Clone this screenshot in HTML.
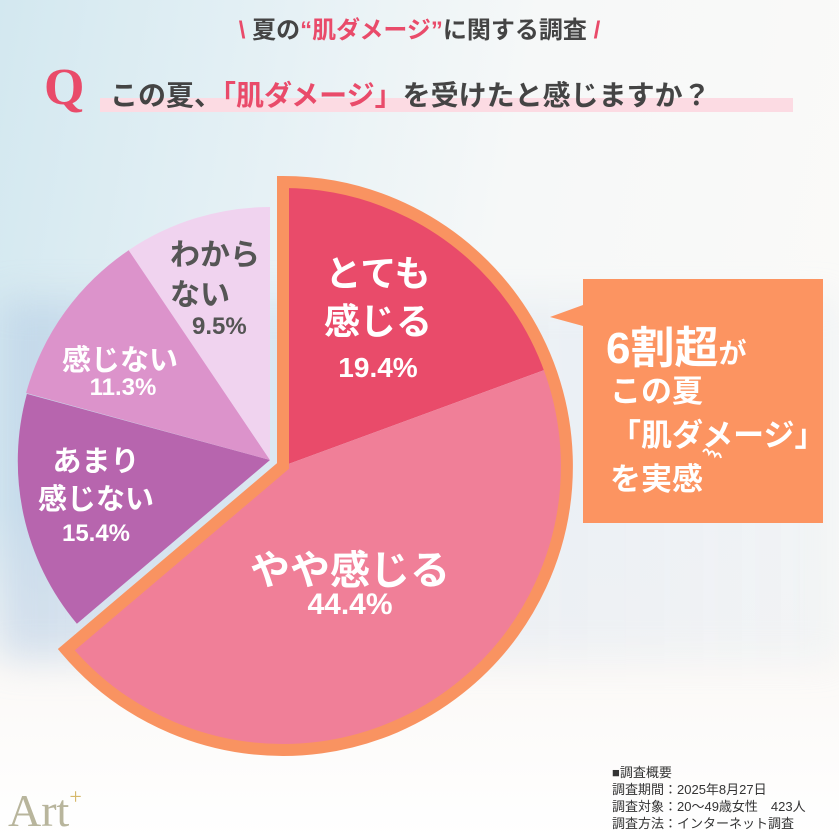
<!DOCTYPE html>
<html><head><meta charset="utf-8"><style>
html,body{margin:0;padding:0}
body{width:839px;height:840px;position:relative;overflow:hidden;font-family:"Liberation Sans","Noto Sans CJK JP",sans-serif;
background:linear-gradient(180deg,rgba(255,255,255,0) 0%,rgba(255,255,255,0) 60%,#fbf9f7 80%,#fff 100%),
linear-gradient(100deg,#d3e8f0 0%,#e6f1f5 30%,#f6f8f8 55%,#fbfaf8 100%);}
.bg2{position:absolute;left:0;top:300px;width:839px;height:360px;background:linear-gradient(90deg,rgba(170,195,225,.45) 0%,rgba(200,215,235,.3) 40%,rgba(215,228,238,.25) 100%);filter:blur(18px)}
.t{position:absolute;white-space:nowrap;font-weight:bold}
.c{transform:translateX(-50%);text-align:center}
</style></head><body>
<div class="bg2"></div>
<div class="t" style="left:0;width:839px;top:10px;text-align:center;font-size:24px;color:#444">
<span style="color:#e94b6a">\</span> 夏の<span style="color:#e94b6a">“肌ダメージ”</span>に関する調査 <span style="color:#e94b6a">/</span></div>
<div style="position:absolute;left:100px;top:98px;width:693px;height:14px;background:#fcdbe3"></div>
<div class="t" style="left:44px;top:58px;font-size:52px;color:#e94b6a;font-family:'Liberation Serif',serif">Q</div>
<div class="t" style="left:110px;top:74px;font-size:28px;color:#444">この夏、<span style="color:#e94b6a">「肌ダメージ」</span>を受けたと感じますか？</div>

<svg width="839" height="840" style="position:absolute;left:0;top:0">
<path d="M270,460 L76.9,623.7 A253,253 0 0 1 26.9,393.9 Z" fill="#b765ae"/>
<path d="M270,460 L26.1,393.0 A253,253 0 0 1 129.2,249.9 Z" fill="#dc93cb"/>
<path d="M270,460 L128.6,250.2 A253,253 0 0 1 270,207 Z" fill="#f0d3ef"/>
<path d="M283,466 L283,182 A284,284 0 0 1 549.6,368.1 Z" fill="#e94b6a"/>
<path d="M283,466 L549.6,368.1 A284,284 0 0 1 66.3,649.7 Z" fill="#f07f98"/>
<path d="M283,466 L283,182 A284,284 0 1 1 66.3,649.7 Z" fill="none" stroke="#f99361" stroke-width="12" stroke-linejoin="miter"/>
<path d="M583,279 L823,279 L823,523 L583,523 L583,326 L550,317 L583,305 Z" fill="#fc9461"/>
<path d="M703,452 q4,-6 6,2 q4,-6 6,2 q4,-6 6,2" fill="none" stroke="#fff" stroke-width="2"/>
</svg>

<div class="t c" style="left:378px;top:250px;font-size:36px;color:#fff;line-height:48px">とても<br>感じる</div>
<div class="t c" style="left:378px;top:352px;font-size:28px;color:#fff">19.4%</div>
<div class="t c" style="left:350px;top:538px;font-size:40px;color:#fff">やや感じる</div>
<div class="t c" style="left:350px;top:588px;font-size:30px;color:#fff">44.4%</div>
<div class="t c" style="left:96px;top:443px;font-size:29px;color:#fff;line-height:38px">あまり<br>感じない</div>
<div class="t c" style="left:96px;top:520px;font-size:24px;color:#fff">15.4%</div>
<div class="t c" style="left:120px;top:337px;font-size:29px;color:#fff">感じない</div>
<div class="t c" style="left:123px;top:374px;font-size:24px;color:#fff">11.3%</div>
<div class="t" style="left:170px;top:236px;font-size:30px;color:#555;line-height:40px">わから<br>ない</div>
<div class="t" style="left:192px;top:313px;font-size:24px;color:#555">9.5%</div>

<div class="t" style="left:606px;top:312px;font-size:44px;color:#fff">6割超<span style="font-size:28px">が</span></div>
<div class="t" style="left:610px;top:370px;font-size:31px;color:#fff;line-height:44px">この夏<br>「肌ダメージ」<br>を実感</div>

<div class="t" style="left:612px;top:764px;font-size:13px;color:#333;font-weight:normal;line-height:17px">■調査概要<br>調査期間：2025年8月27日<br>調査対象：20～49歳女性　423人<br>調査方法：インターネット調査</div>
<div class="t" style="left:8px;top:784px;font-size:46px;color:#b8b59c;font-family:'Liberation Serif',serif;font-weight:normal">Art<span style="font-size:22px;vertical-align:top;color:#d6b86a">+</span></div>
</body></html>
